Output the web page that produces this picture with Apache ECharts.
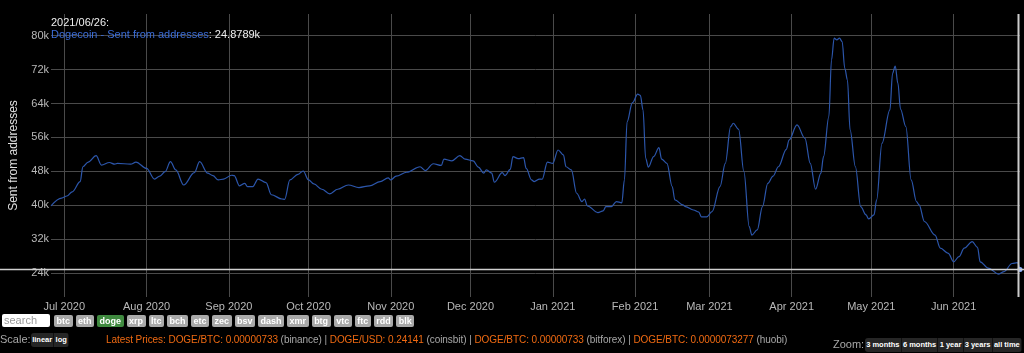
<!DOCTYPE html>
<html>
<head>
<meta charset="utf-8">
<script src="https://cdn.jsdelivr.net/npm/echarts@6/dist/echarts.min.js"></script>
<style>
html, body { margin: 0; padding: 0; background: #000; }
body { width: 1024px; height: 353px; overflow: hidden; position: relative; font-family: "Liberation Sans", Arial, sans-serif; }
#chart { position: absolute; left: 0; top: 0; width: 1024px; height: 353px; }
#search { position: absolute; left: 2px; top: 314px; width: 46px; height: 13px; background: #fff; border-radius: 2px; color: #999; font-size: 11px; line-height: 13px; padding-left: 2px; }
#coins { position: absolute; left: 54px; top: 315px; display: flex; white-space: nowrap; }
#coins span { display: block; height: 12px; line-height: 12px; background: #a9a9a9; color: #fff; font-size: 9px; font-weight: bold; border-radius: 2px; padding: 0 2.5px; margin-right: 3px; }
#coins span.on { background: #3f8a3f; }
.lbl { position: absolute; color: #a8a8a8; font-size: 11px; white-space: nowrap; }
.btns { position: absolute; display: flex; border-radius: 3px; overflow: hidden; white-space: nowrap; }
.btns span { display: block; height: 14px; line-height: 14px; background: #262626; color: #fff; font-size: 7.5px; font-weight: bold; padding: 0 1.2px; border-right: 1px solid #111; }
#prices { position: absolute; left: 106px; top: 334px; font-size: 10px; letter-spacing: -0.06px; color: #a8a8a8; white-space: nowrap; }
#prices b { font-weight: normal; color: #f06a12; }
</style>
</head>
<body>
<div id="chart"></div>
<div id="search">search</div>
<div id="coins"></div>
<div class="lbl" style="left:0;top:333px;">Scale:</div>
<div class="btns" style="left:31px;top:333px;"><span>linear</span><span>log</span></div>
<div id="prices"></div>
<div class="lbl" style="left:833px;top:338px;">Zoom:</div>
<div class="btns" id="zoomBtns" style="left:865px;top:338px;"></div>
<script>
var dates = [
  '2020-06-26', '2020-06-30', '2020-07-02', '2020-07-04', '2020-07-07', '2020-07-08', '2020-07-10',
  '2020-07-13', '2020-07-15', '2020-07-18', '2020-07-20', '2020-07-21', '2020-07-26', '2020-07-28',
  '2020-08-01', '2020-08-04', '2020-08-06', '2020-08-08', '2020-08-10', '2020-08-12', '2020-08-15',
  '2020-08-19', '2020-08-21', '2020-08-24', '2020-08-26', '2020-08-28', '2020-08-30', '2020-09-02',
  '2020-09-03', '2020-09-05', '2020-09-07', '2020-09-08', '2020-09-10', '2020-09-12', '2020-09-15',
  '2020-09-17', '2020-09-21', '2020-09-22', '2020-09-24', '2020-09-27', '2020-09-29', '2020-10-01',
  '2020-10-03', '2020-10-06', '2020-10-09', '2020-10-12', '2020-10-16', '2020-10-20', '2020-10-24',
  '2020-10-28', '2020-10-31', '2020-11-01', '2020-11-03', '2020-11-07', '2020-11-12', '2020-11-14',
  '2020-11-17', '2020-11-20', '2020-11-21', '2020-11-24', '2020-11-27', '2020-11-29', '2020-12-02',
  '2020-12-04', '2020-12-06', '2020-12-07', '2020-12-09', '2020-12-10', '2020-12-13', '2020-12-14',
  '2020-12-16', '2020-12-17', '2020-12-19', '2020-12-21', '2020-12-22', '2020-12-24', '2020-12-25',
  '2020-12-27', '2020-12-28', '2020-12-30', '2021-01-01', '2021-01-03', '2021-01-05', '2021-01-06',
  '2021-01-08', '2021-01-10', '2021-01-12', '2021-01-13', '2021-01-14', '2021-01-18', '2021-01-20',
  '2021-01-21', '2021-01-23', '2021-01-25', '2021-01-27', '2021-01-28', '2021-01-29', '2021-01-31',
  '2021-02-02', '2021-02-03', '2021-02-04', '2021-02-05', '2021-02-06', '2021-02-08', '2021-02-10',
  '2021-02-11', '2021-02-13', '2021-02-15', '2021-02-16', '2021-02-19', '2021-02-20', '2021-02-23',
  '2021-02-25', '2021-02-26', '2021-02-28', '2021-03-02', '2021-03-05', '2021-03-07', '2021-03-09',
  '2021-03-10', '2021-03-12', '2021-03-14', '2021-03-16', '2021-03-17', '2021-03-19', '2021-03-21',
  '2021-03-23', '2021-03-25', '2021-03-27', '2021-03-30', '2021-03-31', '2021-04-03', '2021-04-06',
  '2021-04-08', '2021-04-10', '2021-04-12', '2021-04-13', '2021-04-15', '2021-04-16', '2021-04-17',
  '2021-04-18', '2021-04-19', '2021-04-20', '2021-04-21', '2021-04-22', '2021-04-23', '2021-04-25',
  '2021-04-27', '2021-04-29', '2021-04-30', '2021-05-02', '2021-05-03', '2021-05-05', '2021-05-08',
  '2021-05-09', '2021-05-10', '2021-05-11', '2021-05-12', '2021-05-14', '2021-05-16', '2021-05-18',
  '2021-05-19', '2021-05-21', '2021-05-25', '2021-05-27', '2021-05-30', '2021-06-01', '2021-06-03',
  '2021-06-05', '2021-06-08', '2021-06-10', '2021-06-11', '2021-06-14', '2021-06-18', '2021-06-20',
  '2021-06-23', '2021-06-25', '2021-06-26'
];
var sent = [
  39900, 41700, 42200, 43200, 45600, 49100, 50200,
  51700, 49500, 50100, 49700, 49900, 49700, 50200,
  48700, 46200, 46900, 47950, 50300, 48350, 44800,
  47700, 50300, 47600, 47000, 46000, 46200, 47100,
  47000, 44600, 45200, 44400, 44400, 46200, 45350,
  42500, 41500, 41400, 46000, 47300, 48100, 46000,
  45050, 43800, 42700, 43800, 44800, 44200, 44600,
  45600, 46500, 46000, 46900, 47800, 49100, 48200,
  49800, 49400, 50900, 50500, 51700, 50900, 50500,
  49000, 47600, 48350, 47600, 45450, 47700, 47000,
  48500, 51500, 51000, 51250, 48700, 46000, 45600,
  46200, 46150, 50200, 49900, 53050, 51900, 49100,
  48350, 42850, 40900, 41500, 39900, 38300, 38700,
  39700, 39700, 40900, 40600, 46000, 59700, 64200,
  66200, 65900, 62500, 51100, 49000, 51500, 53600,
  50900, 49900, 44400, 41300, 40100, 39700, 38900,
  38400, 37300, 37300, 38500, 44400, 49900, 58550,
  59350, 57900, 47950, 35000, 33000, 34200, 39700,
  45200, 46900, 49100, 53200, 55400, 58950, 55800,
  49900, 43800, 47600, 51500, 60900, 74300, 79400,
  79000, 79400, 78600, 72300, 69550, 57800, 49100,
  39700, 37750, 36800, 37750, 41300, 54600, 62500,
  71100, 72850, 68800, 62650, 58550, 46000, 40900,
  40100, 36200, 33000, 29900, 28700, 26700, 27900,
  29900, 31450, 30100, 26700, 25200, 23800, 24400,
  26300, 26500, 24878.9
];
var yTicks = [24000, 32000, 40000, 48000, 56000, 64000, 72000, 80000];
var monthTicks = ['2020-07-01', '2020-08-01', '2020-09-01', '2020-10-01', '2020-11-01', '2020-12-01',
  '2021-01-01', '2021-02-01', '2021-03-01', '2021-04-01', '2021-05-01', '2021-06-01'];
var monthNames = ['Jan', 'Feb', 'Mar', 'Apr', 'May', 'Jun', 'Jul', 'Aug', 'Sep', 'Oct', 'Nov', 'Dec'];
var coins = ['btc', 'eth', 'doge', 'xrp', 'ltc', 'bch', 'etc', 'zec', 'bsv', 'dash', 'xmr', 'btg', 'vtc', 'ftc', 'rdd', 'blk'];
var zoomLabels = ['3 months', '6 months', '1 year', '3 years', 'all time'];
var prices = [
  ['DOGE/BTC: 0.00000733', 'binance'],
  ['DOGE/USD: 0.24141', 'coinsbit'],
  ['DOGE/BTC: 0.00000733', 'bitforex'],
  ['DOGE/BTC: 0.0000073277', 'huobi']
];

function toTime(s) {
  var p = s.split('-');
  return new Date(+p[0], +p[1] - 1, +p[2]).getTime();
}

document.getElementById('coins').innerHTML = coins.map(function (c) {
  return '<span' + (c === 'doge' ? ' class="on"' : '') + '>' + c + '</span>';
}).join('');
document.getElementById('zoomBtns').innerHTML = zoomLabels.map(function (z) {
  return '<span>' + z + '</span>';
}).join('');
document.getElementById('prices').innerHTML = '<b>Latest Prices: </b>' + prices.map(function (p) {
  return '<b>' + p[0] + '</b> (' + p[1] + ')';
}).join(' | ');

var points = dates.map(function (d, i) {
  return [toTime(d), sent[i]];
});
var last = points[points.length - 1];
var seriesData = points.map(function (p, i) {
  if (i === points.length - 1) {
    return { value: p, symbol: 'circle', symbolSize: 5, itemStyle: { color: '#8fb0ff' } };
  }
  return p;
});
var lastDate = new Date(last[0]);
function pad(n) { return (n < 10 ? '0' : '') + n; }
var legendDate = lastDate.getFullYear() + '/' + pad(lastDate.getMonth() + 1) + '/' + pad(lastDate.getDate());
var monthValues = monthTicks.map(toTime);
var yMin = 18400, yMax = 85100;

var myChart = echarts.init(document.getElementById('chart'));
myChart.setOption({
  backgroundColor: '#000',
  animation: false,
  textStyle: { fontFamily: '"Liberation Sans", Arial, sans-serif' },
  title: {
    left: 51,
    top: 17,
    padding: 0,
    text: '{d|' + legendDate + ':}\n{n|Dogecoin - Sent from addresses}{v|: ' + (last[1] / 1000).toFixed(4) + 'k}',
    textStyle: {
      fontWeight: 'normal',
      rich: {
        d: { color: '#eeeeee', fontSize: 11, lineHeight: 12, fontWeight: 'normal' },
        n: { color: '#3b6cd6', fontSize: 11, lineHeight: 12, fontWeight: 'normal' },
        v: { color: '#eeeeee', fontSize: 11, lineHeight: 12, fontWeight: 'normal' }
      }
    }
  },
  grid: { left: 38, right: 4, top: 14, bottom: 56 },
  xAxis: {
    type: 'value',
    min: toTime(dates[0]),
    max: last[0],
    axisLine: { show: false },
    axisTick: { show: false, customValues: monthValues },
    splitLine: { show: true, lineStyle: { color: '#4a4a4a', width: 1 } },
    axisLabel: {
      customValues: monthValues,
      color: '#b8b8b8',
      fontSize: 11,
      margin: 4,
      formatter: function (v) {
        var d = new Date(v);
        return monthNames[d.getMonth()] + ' ' + d.getFullYear();
      }
    }
  },
  yAxis: {
    type: 'value',
    min: yMin,
    max: yMax,
    name: 'Sent from addresses',
    nameLocation: 'middle',
    nameGap: 31,
    nameTextStyle: { color: '#e0e0e0', fontSize: 12 },
    axisLine: { show: false },
    axisTick: { show: false, customValues: yTicks },
    splitLine: { show: true, lineStyle: { color: '#4a4a4a', width: 1 } },
    axisLabel: {
      customValues: yTicks,
      color: '#b8b8b8',
      fontSize: 11,
      margin: 2,
      formatter: function (v) { return (v / 1000) + 'k'; }
    }
  },
  series: [{
    type: 'line',
    data: seriesData,
    symbol: 'none',
    smooth: 0.35,
    smoothMonotone: 'x',
    lineStyle: { color: '#2c56ab', width: 1.2 },
    z: 3
  }]
});

// crosshair at the latest point
var lastPx = myChart.convertToPixel({ gridIndex: 0 }, last);
var topPx = myChart.convertToPixel({ gridIndex: 0 }, [last[0], yMax]);
var botPx = myChart.convertToPixel({ gridIndex: 0 }, [last[0], yMin]);
myChart.setOption({
  graphic: [
    { type: 'line', z: 10, shape: { x1: 0, y1: lastPx[1], x2: 1024, y2: lastPx[1] }, style: { stroke: '#d0d0d0', lineWidth: 1.5 } },
    { type: 'line', z: 10, shape: { x1: lastPx[0] - 1.5, y1: topPx[1], x2: lastPx[0] - 1.5, y2: botPx[1] }, style: { stroke: '#cccccc', lineWidth: 2 } }
  ]
});
</script>
</body>
</html>
